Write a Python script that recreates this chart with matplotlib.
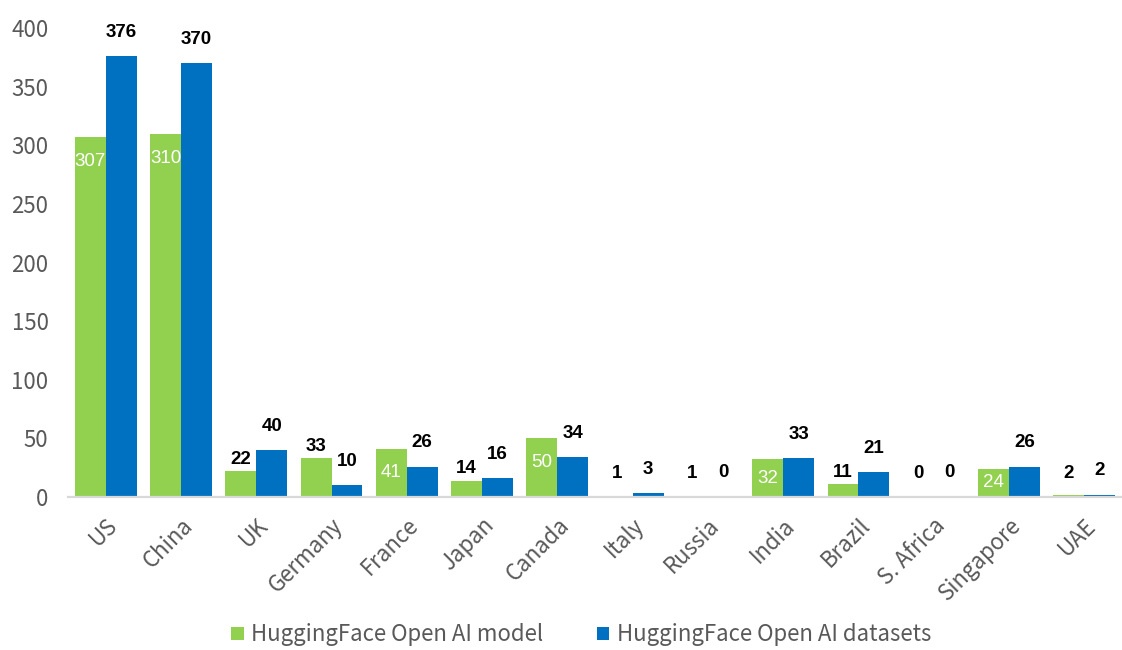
import matplotlib
matplotlib.use("Agg")
import matplotlib.pyplot as plt
import numpy as np

categories = ["US", "China", "UK", "Germany", "France", "Japan", "Canada", "Italy",
              "Russia", "India", "Brazil", "S. Africa", "Singapore", "UAE"]
model_vals = [307, 310, 22, 33, 41, 14, 50, 1, 1, 32, 11, 0, 24, 2]
dataset_vals = [376, 370, 40, 10, 26, 16, 34, 3, 0, 33, 21, 0, 26, 2]
model_label_inside = [True, True, False, False, True, False, True, False,
                      False, True, False, False, True, False]
series_names = ["HuggingFace Open AI model", "HuggingFace Open AI datasets"]
yticks = [0, 50, 100, 150, 200, 250, 300, 350, 400]

GREEN = "#92D050"
BLUE = "#0070C0"
GREY = "#595959"
LABEL_FONT = ["Noto Sans CJK SC", "DejaVu Sans"]

fig = plt.figure(figsize=(11.22, 6.5), dpi=100)
ax = fig.add_axes([68 / 1122, 153 / 650, 1 - 68 / 1122, (497 - 28) / 650])

x = np.arange(len(categories))
w = 0.41
b1 = ax.bar(x - w / 2, model_vals, w, color=GREEN, label=series_names[0])
b2 = ax.bar(x + w / 2, dataset_vals, w, color=BLUE, label=series_names[1])

ax.set_xlim(-0.5, len(categories) - 0.5)
ax.set_ylim(0, 400)
ax.set_yticks(yticks)
ax.set_yticklabels([str(t) for t in yticks], family=LABEL_FONT, fontsize=16,
                   color=GREY, fontweight="light")
ax.set_xticks(x)
ax.set_xticklabels(categories, family=LABEL_FONT, fontsize=16, color=GREY, fontweight="light",
                   rotation=45, ha="right", rotation_mode="anchor")
ax.tick_params(axis="both", length=0)
ax.tick_params(axis="y", pad=14)
ax.tick_params(axis="x", pad=12)
for s in ["top", "right", "left"]:
    ax.spines[s].set_visible(False)
ax.spines["bottom"].set_color("#D9D9D9")
ax.spines["bottom"].set_linewidth(1.6)

# labels
for xi, v, inside in zip(x, model_vals, model_label_inside):
    if inside:
        y = max(v - 21, v / 2)
        ax.text(xi - w / 2, y, str(v), ha="center", va="center", color="white",
                fontsize=13.5, family="Liberation Sans")
    else:
        y = max(v + 10, 20)
        ax.text(xi - w / 2, y, str(v), ha="center", va="center", color="black",
                fontsize=13.5, family="Liberation Sans", fontweight="bold")
for xi, v in zip(x, dataset_vals):
    ax.text(xi + w / 2, v + 20.5, str(v), ha="center", va="center", color="black",
            fontsize=13.5, family="Liberation Sans", fontweight="bold")

leg = fig.legend(handles=[b1, b2], loc="center", ncol=2, frameon=False,
                 prop={"family": LABEL_FONT, "size": 16, "weight": "light"},
                 labelcolor=GREY, handlelength=0.55, handleheight=0.55, handletextpad=0.35,
                 columnspacing=2.4)
leg.set_bbox_to_anchor((0.518, 15 / 650), transform=fig.transFigure)

fig.savefig("out.png", dpi=100)
